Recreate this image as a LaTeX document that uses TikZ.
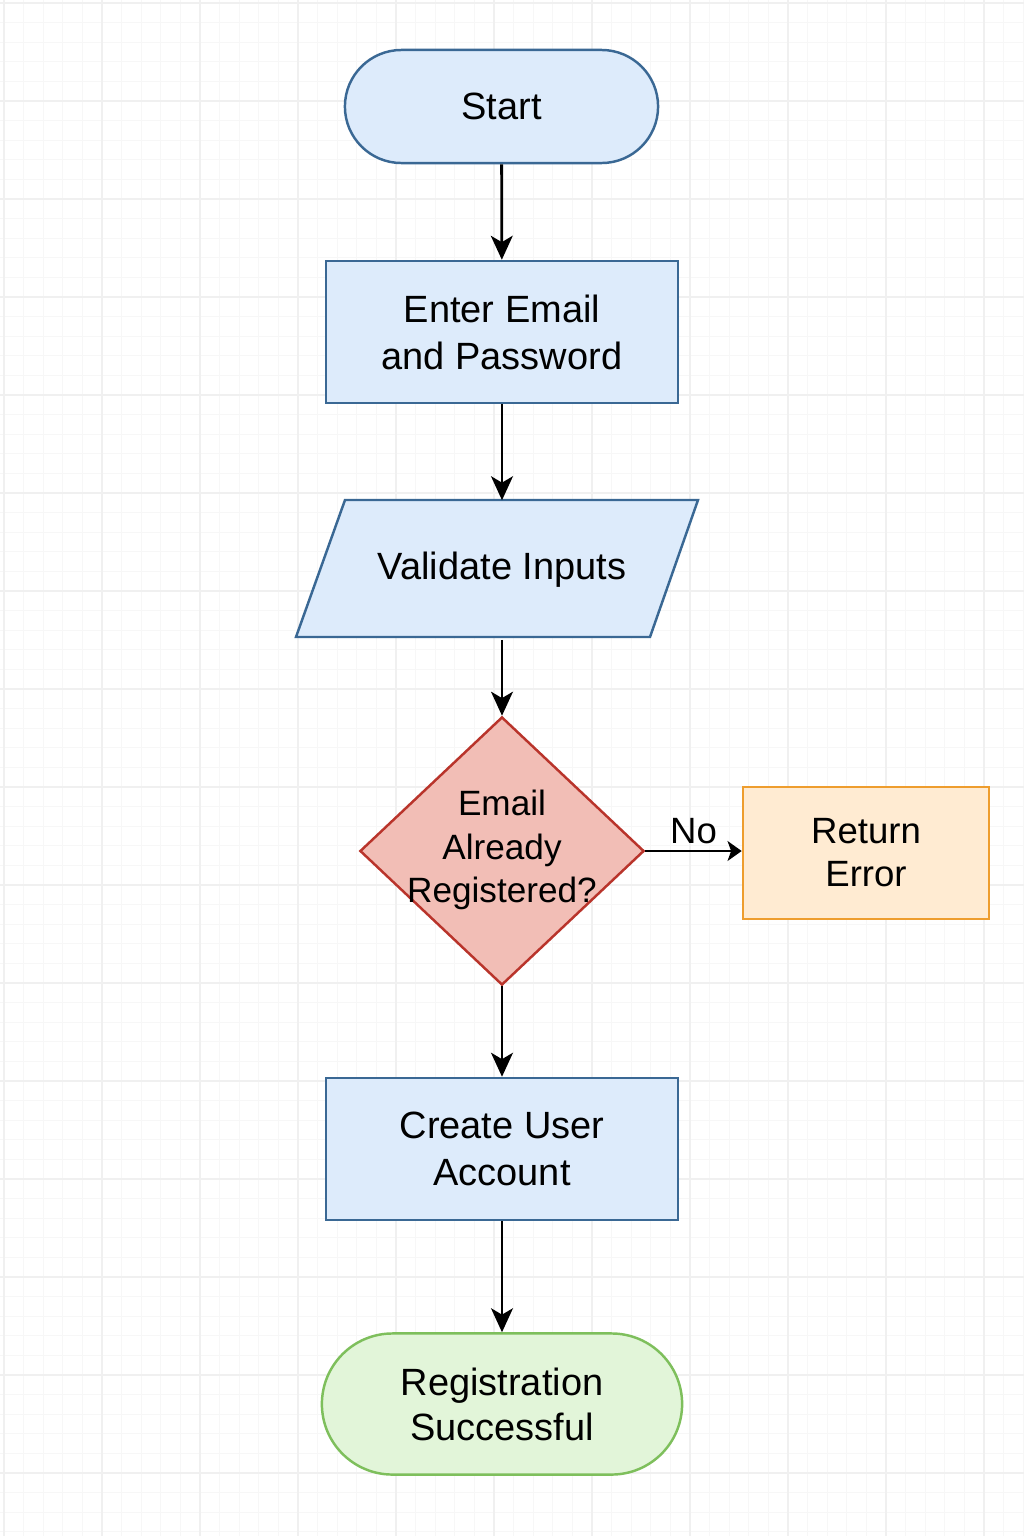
\documentclass[tikz,border=0pt]{standalone}
\usepackage{fontspec}
\setmainfont{Liberation Sans}
\usetikzlibrary{arrows.meta,shapes.geometric}
\definecolor{procfill}{HTML}{DDEBFB}
\definecolor{procline}{HTML}{3A6894}
\definecolor{askfill}{HTML}{F2BEB6}
\definecolor{askline}{HTML}{B9342B}
\definecolor{errfill}{HTML}{FFEBD2}
\definecolor{errline}{HTML}{EE9D2E}
\definecolor{donefill}{HTML}{E2F5D9}
\definecolor{doneline}{HTML}{7EBF5C}
\tikzset{%
    boxbase/.style={draw, line width=0.7pt, inner sep=0pt, align=center,
        font=\fontsize{10.8}{13.4}\selectfont},
    termbox/.style={boxbase, rectangle, rounded corners=#1,
        draw=procline, fill=procfill},
    procbox/.style={boxbase, rectangle, draw=procline, fill=procfill},
    askbox/.style={boxbase, diamond, draw=askline, fill=askfill},
    errbox/.style={boxbase, rectangle, draw=errline, fill=errfill,
        font=\fontsize{10.4}{12.2}\selectfont},
    donebox/.style={boxbase, rectangle, rounded corners=#1,
        draw=doneline, fill=donefill, font=\fontsize{10.8}{12.8}\selectfont},
    flowarrow/.style={line width=0.8pt,
        -{Stealth[length=6.8pt, width=6.2pt, inset=1.8pt]}},
    smallarrow/.style={line width=0.8pt,
        -{Stealth[length=4pt, width=5.6pt, inset=1pt]}},
    gridminor/.style={draw=black!3, line width=0.3pt},
    gridmajor/.style={draw=black!6, line width=0.5pt},
}
\begin{document}
\begin{tikzpicture}[x=0.01cm, y=-0.01cm]
\useasboundingbox (0,0) rectangle (1024,1536);
\fill[white] (0,0) rectangle (1024,1536);
% background grid
\foreach \i in {0,...,52}
    \draw[gridminor] ({4+19.6*\i},0) -- ({4+19.6*\i},1536);
\foreach \j in {0,...,78}
    \draw[gridminor] (0,{3+19.6*\j}) -- (1024,{3+19.6*\j});
\foreach \i in {0,...,10}
    \draw[gridmajor] ({4+98*\i},0) -- ({4+98*\i},1536);
\foreach \j in {0,...,15}
    \draw[gridmajor] (0,{3+98*\j}) -- (1024,{3+98*\j});

\node[termbox=0.565cm, minimum width=3.13cm, minimum height=1.13cm]
    (start) at (501.5,106.5) {Start};
\node[procbox, minimum width=3.52cm, minimum height=1.42cm]
    (enter) at (502,332) {Enter Email\\and Password};
\filldraw[draw=procline, fill=procfill, line width=0.7pt]
    (345,500) -- (698,500) -- (650,637) -- (296,637) -- cycle;
\node[boxbase, draw=none, minimum width=2.6cm, minimum height=1.37cm]
    (valid) at (502,570) {Validate Inputs};
\node[askbox, minimum width=2.84cm, minimum height=2.68cm,
    label={[font=\fontsize{10}{12.3}\selectfont, align=center, yshift=0.01cm]center:Email\\Already\\Registered?}]
    (ask) at (502,851) {};
\node[errbox, minimum width=2.46cm, minimum height=1.32cm]
    (err) at (866,853) {Return\\Error};
\node[procbox, minimum width=3.52cm, minimum height=1.42cm]
    (create) at (502,1149) {Create User\\Account};
\node[donebox=0.705cm, minimum width=3.6cm, minimum height=1.41cm]
    (done) at (502,1404) {Registration\\Successful};

\draw[flowarrow] (start) -- (enter);
\draw[flowarrow] (enter) -- (valid);
\draw[flowarrow] (valid) -- (ask);
\draw[flowarrow] (ask) -- (create);
\draw[flowarrow] (create) -- (done);
\draw[smallarrow] (ask.east) -- node[above=-1.8pt, font=\fontsize{10.4}{12}\selectfont] (no) {No} (ask.east -| err.west);
\end{tikzpicture}
\end{document}
